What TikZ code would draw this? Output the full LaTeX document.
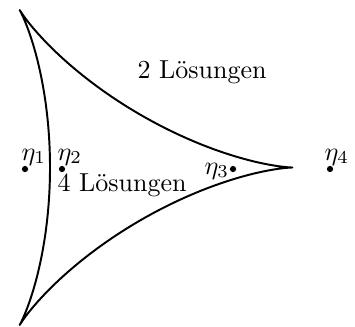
\documentclass[tikz,border=0pt]{standalone}
\begin{document}
\begin{tikzpicture}[x=0.3846pt,y=-0.3846pt,
  curve/.style={line width=0.75pt,line join=round},
  pt/.style={circle,fill=black,inner sep=0pt,minimum size=2.4pt},
  lab/.style={anchor=base west,inner sep=0pt}]
\useasboundingbox (0,0) rectangle (355,326);
\draw[curve,variable=\t,domain=0:360,samples=721]
  plot ({110.6+60.6*(2*cos(\t)+cos(2*\t))},{167.5-60.6*(2*sin(\t)-sin(2*\t))}) -- cycle;
\node[pt] (e1) at (25,169) {};
\node[pt] (e2) at (62,169) {};
\node[pt] (e3) at (233,169) {};
\node[pt] (e4) at (330,169) {};
\node[lab] (l1) at (21,160) {$\eta_1$};
\node[lab] (l2) at (57,160) {$\eta_2$};
\node[lab] (l3) at (204,174) {$\eta_3$};
\node[lab] (l4) at (324,160) {$\eta_4$};
\node[lab] (t2) at (137,78) {2 Lösungen};
\node[lab] (t4) at (57,191) {4 Lösungen};
\end{tikzpicture}
\end{document}
